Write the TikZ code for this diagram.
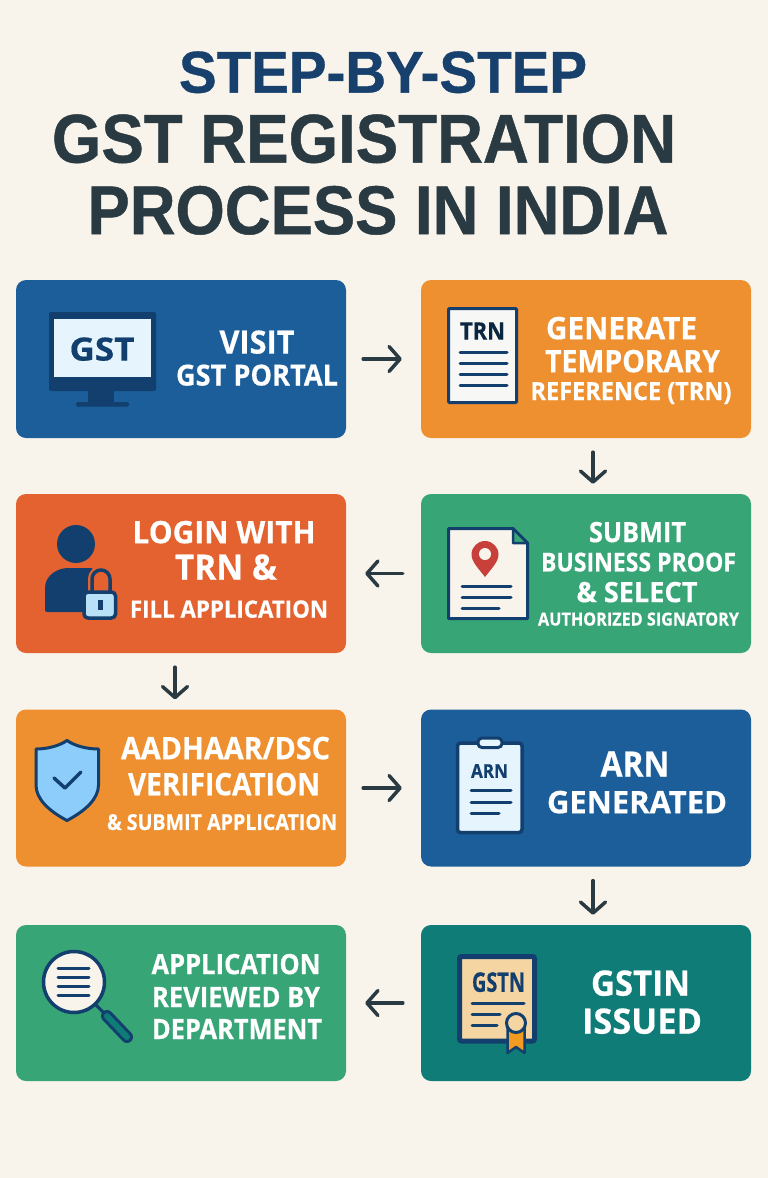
\documentclass[tikz,border=0pt]{standalone}
\usepackage{fontspec}
\usepackage{graphicx}
\setmainfont{Open Sans}[BoldFeatures={FakeBold=0.5}]
\newfontfamily\headfont{Liberation Sans}[BoldFeatures={FakeBold=0.7}]
\usetikzlibrary{arrows.meta, positioning, calc}
\definecolor{PageBg}{HTML}{F9F4EB}
\definecolor{StepBlue}{HTML}{1B5E9A}
\definecolor{StepOrange}{HTML}{EE9030}
\definecolor{StepRed}{HTML}{E4622F}
\definecolor{StepGreen}{HTML}{38A577}
\definecolor{StepTeal}{HTML}{0F7C78}
\definecolor{Navy}{HTML}{123F6D}
\definecolor{TitleBlue}{HTML}{17406C}
\definecolor{Charcoal}{HTML}{2A3A42}
\definecolor{ScreenBg}{HTML}{E6F5FD}
\definecolor{PaperBg}{HTML}{F7F7F5}
\definecolor{ShieldBg}{HTML}{8DCDFC}
\definecolor{LockBg}{HTML}{B8E0F7}
\definecolor{PinRed}{HTML}{C8403A}
\definecolor{CertBg}{HTML}{F5D6A3}
\definecolor{RibbonOrange}{HTML}{F39A20}
% width in px, cap height in px via font size, then the text
\newcommand{\fitline}[3]{\fontsize{#2}{#2}\selectfont\bfseries\resizebox{#1pt}{\height}{#3}}
\tikzset{
  stepbox/.style={rounded corners=10pt, minimum width=330pt, text width=0pt, inner sep=0pt},
  steptext/.style={text=white, inner sep=0pt, text depth=0pt},
  titletext/.style={font=\headfont, inner sep=0pt, text depth=0pt},
  icontext/.style={text=Navy, inner sep=0pt, text depth=0pt},
  flowarrow/.style={draw=Charcoal, line width=3.5pt, line cap=round, -{Straight Barb[length=11pt, width=25pt, line width=3.5pt, round]}},
  iconline/.style={draw=Navy, line width=3pt, line cap=round}
}
\begin{document}
\begin{tikzpicture}[x=1pt, y=-1pt]
    \fill[PageBg] (0,0) rectangle (768,1178);
    \useasboundingbox (0,0) rectangle (768,1178);

    % Title
    \node[titletext, text=TitleBlue] (titleA) at (383,72) {\fitline{408}{59}{STEP-BY-STEP}};
    \node[titletext, text=Charcoal] (titleB) at (364,138.5) {\fitline{624}{69}{GST REGISTRATION}};
    \node[titletext, text=Charcoal] (titleC) at (378,210) {\fitline{581}{69}{PROCESS IN INDIA}};

    % Step boxes
    \node[stepbox, fill=StepBlue, minimum height=158pt] (visit) at (181,359) {};
    \node[stepbox, fill=StepOrange, minimum height=158pt] (trn) at (586,359) {};
    \node[stepbox, fill=StepGreen, minimum height=159pt] (submit) at (586,573.5) {};
    \node[stepbox, fill=StepRed, minimum height=159pt] (login) at (181,573.5) {};
    \node[stepbox, fill=StepOrange, minimum height=157pt] (aadhaar) at (181,788) {};
    \node[stepbox, fill=StepBlue, minimum height=157pt] (arn) at (586,788) {};
    \node[stepbox, fill=StepTeal, minimum height=156pt] (gstin) at (586,1003) {};
    \node[stepbox, fill=StepGreen, minimum height=156pt] (review) at (181,1003) {};

    % Connectors
    \draw[flowarrow, shorten <=17pt, shorten >=19pt] (visit.east) -- (trn.west);
    \draw[flowarrow, shorten <=14pt, shorten >=10pt] ([xshift=7pt]trn.south) -- ([xshift=7pt]submit.north);
    \draw[flowarrow, shorten <=18pt, shorten >=19pt] (submit.west) -- (login.east);
    \draw[flowarrow, shorten <=14pt, shorten >=10pt] ([xshift=-6pt]login.south) -- ([xshift=-6pt]aadhaar.north);
    \draw[flowarrow, shorten <=17pt, shorten >=19pt] (aadhaar.east) -- (arn.west);
    \draw[flowarrow, shorten <=14pt, shorten >=10pt] ([xshift=7pt]arn.south) -- ([xshift=7pt]gstin.north);
    \draw[flowarrow, shorten <=18pt, shorten >=19pt] (gstin.west) -- (review.east);

    % Visit label
    \node[steptext] (visitA) at (257,342) {\fitline{75}{32}{VISIT}};
    \node[steptext] (visitB) at (257,375) {\fitline{162}{29}{GST PORTAL}};
    % Trn label
    \node[steptext] (trnA) at (621.5,328) {\fitline{151}{31}{GENERATE}};
    \node[steptext] (trnB) at (632.5,361) {\fitline{175}{31}{TEMPORARY}};
    \node[steptext] (trnC) at (631,391) {\fitline{201}{25}{REFERENCE (TRN)}};
    % Submit label
    \node[steptext] (submitA) at (637.5,532) {\fitline{97}{28}{SUBMIT}};
    \node[steptext] (submitB) at (638.5,562) {\fitline{195}{26}{BUSINESS PROOF}};
    \node[steptext] (submitC) at (637,592) {\fitline{121}{28}{\& SELECT}};
    \node[steptext] (submitD) at (638.5,619) {\fitline{201}{18}{AUTHORIZED SIGNATORY}};
    % Login label
    \node[steptext] (loginA) at (224,532) {\fitline{183}{31}{LOGIN WITH}};
    \node[steptext] (loginB) at (226,567) {\fitline{102}{35}{TRN \&}};
    \node[steptext] (loginC) at (229,609) {\fitline{198}{24}{FILL APPLICATION}};
    % Aadhaar label
    \node[steptext] (aadhaarA) at (225.5,748) {\fitline{209}{31}{AADHAAR/DSC}};
    \node[steptext] (aadhaarB) at (224,784) {\fitline{192}{31}{VERIFICATION}};
    \node[steptext] (aadhaarC) at (222,822) {\fitline{230}{22}{\& SUBMIT APPLICATION}};
    % Arn label
    \node[steptext] (arnA) at (635,764) {\fitline{69}{35}{ARN}};
    \node[steptext] (arnB) at (637,802) {\fitline{180}{31}{GENERATED}};
    % Gstin label
    \node[steptext] (gstinA) at (640.5,983) {\fitline{99}{35}{GSTIN}};
    \node[steptext] (gstinB) at (642,1021) {\fitline{120}{35}{ISSUED}};
    % Review label
    \node[steptext] (reviewA) at (236,964) {\fitline{169}{28}{APPLICATION}};
    \node[steptext] (reviewB) at (236,997) {\fitline{168}{28}{REVIEWED BY}};
    \node[steptext] (reviewC) at (237,1029) {\fitline{170}{28}{DEPARTMENT}};

    % Monitor icon
    \fill[Navy, rounded corners=2pt] (49,312) rectangle (156,391);
    \fill[ScreenBg] (54,319) rectangle (151,377);
    \fill[Navy] (88,391) rectangle (114,403);
    \fill[Navy, rounded corners=1.5pt] (76,402) rectangle (129,406.5);
    \node[icontext] (gstA) at (102,349) {\fitline{65}{32}{GST}};

    % Trn document icon
    \draw[fill=PaperBg, draw=Navy, line width=3pt, rounded corners=1pt] (448.5,308.5) rectangle (516.5,402.5);
    \node[icontext, text=Navy!60!black] (trnIcon) at (482.5,331) {\fitline{45}{24}{TRN}};
    \foreach \y in {352.5,363.5,374,385}
        \draw[iconline] (460,\y) -- (507,\y);

    % Map pin document icon
    \draw[fill=PageBg, draw=Navy, line width=3pt, line join=round] (448.5,528.5) -- (513,528.5) -- (527.5,543) -- (527.5,618.5) -- (448.5,618.5) -- cycle;
    \draw[fill=StepGreen, draw=Navy, line width=2.5pt, line join=round] (513,528.5) -- (527.5,543) -- (513,543) -- cycle;
    \fill[PinRed] (485,577) .. controls (479,569) and (471.5,562) .. (471.5,554.5) arc[start angle=180, end angle=360, radius=13.5] .. controls (498.5,562) and (491,569) .. (485,577) -- cycle;
    \fill[PageBg] (485,554) circle (6pt);
    \draw[iconline] (462,586) -- (511,586);
    \draw[iconline] (462,597) -- (511,597);
    \draw[iconline] (462,608) -- (499,608);

    % User with lock icon
    \fill[Navy] (76,544) circle (19pt);
    \fill[Navy, rounded corners=2pt] (45,612) -- (45,590) .. controls (45,575) and (58,568) .. (70,568) -- (93,568) -- (93,612) -- cycle;
    \draw[draw=StepRed, line width=8pt] (92,592) -- (92,579) arc[start angle=180, end angle=360, radius=9] -- (110,592);
    \draw[draw=Navy, line width=3.5pt] (92,592) -- (92,579) arc[start angle=180, end angle=360, radius=9] -- (110,592);
    \draw[fill=LockBg, draw=Navy, line width=3.5pt, rounded corners=4pt] (84,592) rectangle (115.5,618);
    \fill[Navy] (97.5,600) rectangle (102.5,610);

    % Shield icon
    \draw[fill=ShieldBg, draw=Navy, line width=3pt, line join=round] (67,740.5) .. controls (75,746) and (87,749) .. (98.5,749) -- (98.5,785) .. controls (98.5,799) and (85,811) .. (67,820.5) .. controls (49,811) and (36,799) .. (36,785) -- (36,749) .. controls (47,749) and (59,746) .. (67,740.5) -- cycle;
    \draw[draw=Navy, line width=3.5pt, line cap=round, line join=round] (54,778) -- (65,788) -- (81,772);

    % Clipboard icon
    \draw[fill=ScreenBg, draw=Navy, line width=3.5pt, rounded corners=3pt] (457.5,743) rectangle (522,832.5);
    \draw[fill=ScreenBg, draw=Navy, line width=3pt, rounded corners=4pt] (478,738) rectangle (502,747.5);
    \node[icontext] (arnIcon) at (489.5,771) {\fitline{37}{19}{ARN}};
    \draw[iconline] (471,790) -- (511,790);
    \draw[iconline] (471,802) -- (511,802);
    \draw[iconline] (471,813.5) -- (499,813.5);

    % Certificate icon
    \draw[fill=CertBg, draw=Navy, line width=5pt, rounded corners=2pt] (459.5,956.5) rectangle (534.5,1041);
    \node[icontext] (gstnIcon) at (498.5,982) {\fitline{53}{27}{GSTN}};
    \draw[iconline] (472,1003) -- (524,1003);
    \draw[iconline] (472,1014.5) -- (500,1014.5);
    \draw[iconline] (472,1025) -- (497,1025);
    \draw[fill=RibbonOrange, draw=Navy, line width=2.5pt, line join=round] (507.5,1028) -- (507.5,1053) -- (516,1047) -- (524.5,1053) -- (524.5,1028) -- cycle;
    \draw[fill=CertBg, draw=Navy, line width=3pt] (516,1023) circle (9.5pt);

    % Magnifier icon
    \draw[draw=Navy, line width=3pt] (94,1003) -- (104,1013);
    \draw[draw=Navy, line width=12pt, line cap=round] (107,1016) -- (127,1037);
    \draw[draw=StepTeal, line width=6pt, line cap=round] (107,1016) -- (127,1037);
    \draw[fill=PageBg, draw=Navy, line width=3.5pt] (74,982) circle (30.5pt);
    \foreach \y in {968,977,986.5,995.5}
        \draw[iconline] (58,\y) -- (89,\y);
\end{tikzpicture}
\end{document}
